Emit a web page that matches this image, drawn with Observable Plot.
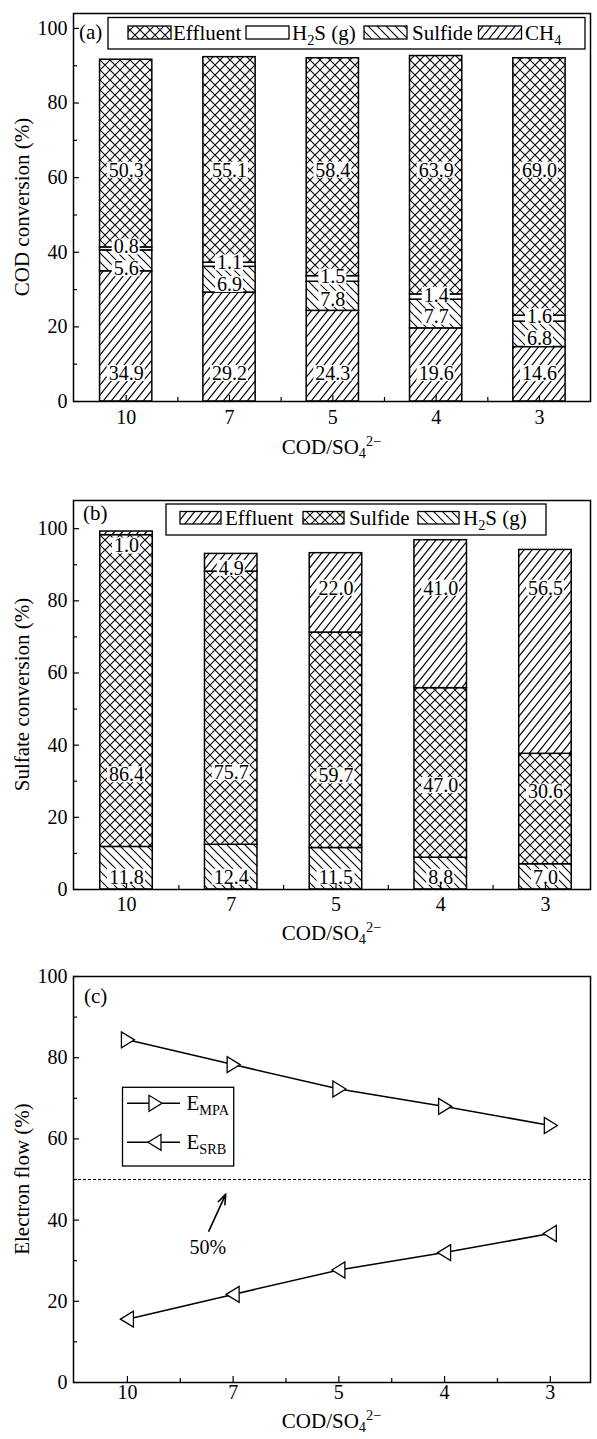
<!DOCTYPE html>
<html><head><meta charset="utf-8">
<script src="https://cdn.jsdelivr.net/npm/d3@7"></script>
<script src="https://cdn.jsdelivr.net/npm/@observablehq/plot@0.6"></script>
<style>
body{margin:0;background:#fff;}
#chart svg{display:block;}
</style></head><body><div id="chart"></div>
<script>
// ---------- data ----------
const ratios = ["10", "7", "5", "4", "3"];            // COD/SO4^2- categories
// (a) COD conversion (%), bottom -> top
const codCH4      = [34.9, 29.2, 24.3, 19.6, 14.6];
const codSulfide  = [5.6, 6.9, 7.8, 7.7, 6.8];
const codH2S      = [0.8, 1.1, 1.5, 1.4, 1.6];
const codEffluent = [50.3, 55.1, 58.4, 63.9, 69.0];
// (b) Sulfate conversion (%), bottom -> top
const sulH2S      = [11.8, 12.4, 11.5, 8.8, 7.0];
const sulSulfide  = [86.4, 75.7, 59.7, 47.0, 30.6];
const sulEffluent = [1.0, 4.9, 22.0, 41.0, 56.5];
// (c) Electron flow (%)
const eMPA = [84.4, 78.3, 72.3, 68.0, 63.3];
const eSRB = [15.6, 21.7, 27.7, 32.0, 36.7];
const yTicks = [0, 20, 40, 60, 80, 100];
const yMinor = [10, 30, 50, 70, 90];
const xMinor = [0.5, 1.5, 2.5, 3.5];
const threshold = [50];
const annotation = [{label: "50%", x: 0.76, y: 33.2, x1: 0.77, y1: 37.3, x2: 0.93, y2: 46.4}];

// ---------- helpers ----------
const FONT = "'Liberation Serif', 'Times New Roman', serif";
const W = 597, ML = 73, MR = 7;
const FS = 20;
const idx = ratios.map((_, i) => i);

function stackRows(series) {
  const rows = [], base = ratios.map(() => 0);
  for (const s of series) s.values.forEach((v, i) => {
    rows.push({key: s.key, i, v, y1: base[i], y2: base[i] + v});
    base[i] += v;
  });
  return rows;
}
function emWidth(s) { let w = 0; for (const c of s) w += c === "." ? 0.25 : 0.5; return w; }
function boxed(labels, xDom, yDom, innerH, fs) {
  const pxX = (W - ML - MR) / (xDom[1] - xDom[0]);
  const pxY = innerH / (yDom[1] - yDom[0]);
  return labels.map(d => ({...d, hw: (emWidth(d.t) * fs / 2 + 1.5) / pxX, hh: (fs * 0.4) / pxY}));
}
function addPatterns(svg, p) {
  const defs = d3.select(svg).insert("defs", ":first-child");
  const mk = (id, w, h, d) => {
    const pat = defs.append("pattern").attr("id", p + id).attr("patternUnits", "userSpaceOnUse")
      .attr("width", w).attr("height", h);
    pat.append("rect").attr("width", w).attr("height", h).attr("fill", "white");
    pat.append("path").attr("d", d).attr("stroke", "black").attr("stroke-width", 1.1).attr("fill", "none");
  };
  const fwd = (w, h) => `M0,${h}L${w},0M${-w/2},${h/2}L${w/2},${-h/2}M${w/2},${1.5*h}L${1.5*w},${h/2}`;
  const back = (w, h) => `M0,0L${w},${h}M${-w/2},${h/2}L${w/2},${1.5*h}M${w/2},${-h/2}L${1.5*w},${h/2}`;
  mk("fwd", 8, 10, fwd(8, 10));
  mk("back", 9, 9, back(9, 9));
  mk("cross", 10, 10, fwd(10, 10) + back(10, 10));
}
function rich(sel, x, y, parts, size, anchor = "start", extra = {}) {
  const t = sel.append("text").attr("x", x).attr("y", y).attr("font-size", size)
    .attr("font-family", FONT).attr("text-anchor", anchor).attr("fill", "black");
  for (const [k, v] of Object.entries(extra)) t.attr(k, v);
  for (const p of parts) {
    const ts = t.append("tspan").text(p.t);
    if (p.dy) ts.attr("dy", p.dy);
    if (p.small) ts.attr("font-size", size * 0.68);
  }
  return t;
}
const H2S_T = [{t: "H"}, {t: "2", dy: 5, small: 1}, {t: "S (g)", dy: -5}];
const CH4_T = [{t: "CH"}, {t: "4", dy: 5, small: 1}];
const XLAB_T = [{t: "COD/SO"}, {t: "4", dy: 4, small: 1}, {t: "2−", dy: -12, small: 1}];

function axes(tickPadX) {
  return [
    Plot.axisY(yTicks, {anchor: "left", tickSize: -6, tickPadding: 12, fontSize: FS, label: null, strokeWidth: 1.2}),
    Plot.axisY(yMinor, {anchor: "left", tickSize: -4, tickFormat: () => "", label: null, strokeWidth: 1.2}),
    Plot.axisX(idx, {anchor: "bottom", tickSize: -6, tickPadding: tickPadX, tickFormat: i => ratios[i], fontSize: FS, label: null, strokeWidth: 1.2}),
    Plot.axisX(xMinor, {anchor: "bottom", tickSize: -4, tickFormat: () => "", label: null, strokeWidth: 1.2})
  ];
}
function swatch(g, x, y, w, h, fill) {
  g.append("rect").attr("x", x).attr("y", y).attr("width", w).attr("height", h)
    .attr("fill", fill).attr("stroke", "black").attr("stroke-width", 1.3);
}
const chart = document.getElementById("chart");

// ---------- panel (a) ----------
{
  const H = 465, MT = 13, MB = 64, xDom = [-0.51, 4.494], yDom = [0, 104], hw = 0.253;
  const rows = stackRows([
    {key: "CH4", values: codCH4}, {key: "Sulfide", values: codSulfide},
    {key: "H2S", values: codH2S}, {key: "Effluent", values: codEffluent}]);
  const fills = {CH4: "url(#a-fwd)", Sulfide: "url(#a-back)", H2S: "white", Effluent: "url(#a-cross)"};
  const labels = [];
  idx.forEach(i => {
    const r = k => rows.find(d => d.key === k && d.i === i);
    const h2s = r("H2S"), sul = r("Sulfide");
    const h2sY = (h2s.y1 + h2s.y2) / 2 + 0.5;
    labels.push({i, y: 7.5, t: codCH4[i].toFixed(1)});
    labels.push({i, y: Math.min((sul.y1 + sul.y2) / 2 - 0.8, h2sY - 5.8), t: codSulfide[i].toFixed(1)});
    labels.push({i, y: h2sY, t: codH2S[i].toFixed(1)});
    labels.push({i, y: 62, t: codEffluent[i].toFixed(1)});
  });
  const lab = boxed(labels, xDom, yDom, H - MT - MB, FS);
  const svg = Plot.plot({
    width: W, height: H, marginLeft: ML, marginRight: MR, marginTop: MT, marginBottom: MB,
    style: {fontFamily: FONT, fontSize: FS + "px", background: "white", color: "black", overflow: "visible"},
    x: {domain: xDom, axis: null}, y: {domain: yDom, axis: null}, color: {type: "identity"},
    marks: [
      Plot.rect(rows, {x1: d => d.i - hw, x2: d => d.i + hw, y1: "y1", y2: "y2", fill: d => fills[d.key], stroke: "black", strokeWidth: 1.5}),
      Plot.rect(lab, {x1: d => d.i - d.hw, x2: d => d.i + d.hw, y1: d => d.y - d.hh, y2: d => d.y + d.hh, fill: "white"}),
      Plot.text(lab, {x: "i", y: "y", text: "t", fontSize: FS, fill: "black"}),
      ...axes(14),
      Plot.frame({stroke: "black", strokeWidth: 1.5})
    ]
  });
  addPatterns(svg, "a-");
  const g = d3.select(svg).append("g");
  rich(g, 79, 39, [{t: "(a)"}], 21);
  g.append("rect").attr("x", 108).attr("y", 17.5).attr("width", 477).attr("height", 31.5).attr("fill", "white").attr("stroke", "black").attr("stroke-width", 1.3);
  swatch(g, 128, 26, 43, 13, "url(#a-cross)"); rich(g, 173, 40, [{t: "Effluent"}], 21);
  swatch(g, 246, 26, 43, 13, "white"); rich(g, 292, 40, H2S_T, 21);
  swatch(g, 364, 26, 43, 13, "url(#a-back)"); rich(g, 412, 40, [{t: "Sulfide"}], 21);
  swatch(g, 478.5, 26, 43, 13, "url(#a-fwd)"); rich(g, 525, 40, CH4_T, 21);
  rich(g, 331.5, 454, XLAB_T, 21, "middle");
  rich(g, 22, (MT + H - MB) / 2, [{t: "COD conversion (%)"}], 21, "middle", {transform: `rotate(-90 22 ${(MT + H - MB) / 2})`, dy: "0.35em"});
  chart.appendChild(svg);
}

// ---------- panel (b) ----------
{
  const H = 485, MT = 35, MB = 61, xDom = [-0.506, 4.43], yDom = [0, 107.8], hw = 0.2506;
  const rows = stackRows([
    {key: "H2S", values: sulH2S}, {key: "Sulfide", values: sulSulfide}, {key: "Effluent", values: sulEffluent}]);
  const fills = {H2S: "url(#b-back)", Sulfide: "url(#b-cross)", Effluent: "url(#b-fwd)"};
  const labels = [];
  idx.forEach(i => {
    const top = sulH2S[i] + sulSulfide[i] + sulEffluent[i];
    labels.push({i, y: 3.4, t: sulH2S[i].toFixed(1)});
    labels.push({i, y: sulH2S[i] + 20, t: sulSulfide[i].toFixed(1)});
    labels.push({i, y: sulEffluent[i] < 10 ? top - 4 : 83.5, t: sulEffluent[i].toFixed(1)});
  });
  const lab = boxed(labels, xDom, yDom, H - MT - MB, FS);
  const svg = Plot.plot({
    width: W, height: H, marginLeft: ML, marginRight: MR, marginTop: MT, marginBottom: MB,
    style: {fontFamily: FONT, fontSize: FS + "px", background: "white", color: "black", overflow: "visible"},
    x: {domain: xDom, axis: null}, y: {domain: yDom, axis: null}, color: {type: "identity"},
    marks: [
      Plot.rect(rows, {x1: d => d.i - hw, x2: d => d.i + hw, y1: "y1", y2: "y2", fill: d => fills[d.key], stroke: "black", strokeWidth: 1.5}),
      Plot.rect(lab, {x1: d => d.i - d.hw, x2: d => d.i + d.hw, y1: d => d.y - d.hh, y2: d => d.y + d.hh, fill: "white"}),
      Plot.text(lab, {x: "i", y: "y", text: "t", fontSize: FS, fill: "black"}),
      ...axes(13),
      Plot.frame({stroke: "black", strokeWidth: 1.5})
    ]
  });
  addPatterns(svg, "b-");
  const g = d3.select(svg).append("g");
  rich(g, 83, 55, [{t: "(b)"}], 21);
  g.append("rect").attr("x", 166).attr("y", 39).attr("width", 380).attr("height", 31).attr("fill", "white").attr("stroke", "black").attr("stroke-width", 1.3);
  swatch(g, 180, 46.5, 41, 12.5, "url(#b-fwd)"); rich(g, 225, 60, [{t: "Effluent"}], 21);
  swatch(g, 303, 46.5, 41, 12.5, "url(#b-cross)"); rich(g, 349, 60, [{t: "Sulfide"}], 21);
  swatch(g, 418, 46.5, 41, 12.5, "url(#b-back)"); rich(g, 463, 60, H2S_T, 21);
  rich(g, 331.5, 475, XLAB_T, 21, "middle");
  rich(g, 22, (MT + H - MB) / 2, [{t: "Sulfate conversion (%)"}], 21, "middle", {transform: `rotate(-90 22 ${(MT + H - MB) / 2})`, dy: "0.35em"});
  chart.appendChild(svg);
}

// ---------- panel (c) ----------
{
  const H = 489, MT = 26, MB = 57, xDom = [-0.51, 4.38], yDom = [0, 100];
  const triRight = {draw(ctx, size) { const s = Math.sqrt(size / Math.PI); ctx.moveTo(0.875 * s, 0); ctx.lineTo(-0.75 * s, -s); ctx.lineTo(-0.75 * s, s); ctx.closePath(); }};
  const triLeft = {draw(ctx, size) { const s = Math.sqrt(size / Math.PI); ctx.moveTo(-0.875 * s, 0); ctx.lineTo(0.75 * s, -s); ctx.lineTo(0.75 * s, s); ctx.closePath(); }};
  const mpa = eMPA.map((v, i) => ({i, v}));
  const srb = eSRB.map((v, i) => ({i, v}));
  const svg = Plot.plot({
    width: W, height: H, marginLeft: ML, marginRight: MR, marginTop: MT, marginBottom: MB,
    style: {fontFamily: FONT, fontSize: FS + "px", background: "white", color: "black", overflow: "visible"},
    x: {domain: xDom, axis: null}, y: {domain: yDom, axis: null},
    marks: [
      Plot.ruleY(threshold, {stroke: "black", strokeWidth: 1, strokeDasharray: "3,2"}),
      Plot.arrow(annotation, {x1: "x1", y1: "y1", x2: "x2", y2: "y2", stroke: "black", strokeWidth: 1.6, headLength: 10, headAngle: 40}),
      Plot.text(annotation, {x: "x", y: "y", text: "label", fontSize: FS, fill: "black"}),
      Plot.line(mpa, {x: "i", y: "v", stroke: "black", strokeWidth: 1.5}),
      Plot.line(srb, {x: "i", y: "v", stroke: "black", strokeWidth: 1.5}),
      Plot.dot(mpa, {x: "i", y: "v", symbol: triRight, r: 8, fill: "white", stroke: "black", strokeWidth: 1.3}),
      Plot.dot(srb, {x: "i", y: "v", symbol: triLeft, r: 8, fill: "white", stroke: "black", strokeWidth: 1.3}),
      ...axes(8),
      Plot.frame({stroke: "black", strokeWidth: 1.5})
    ]
  });
  const g = d3.select(svg).append("g");
  rich(g, 84, 53, [{t: "(c)"}], 21);
  g.append("rect").attr("x", 122.5).attr("y", 137.3).attr("width", 111.2).attr("height", 78.7).attr("fill", "white").attr("stroke", "black").attr("stroke-width", 1.3);
  const tri = (cx, cy, dir) => { const s = 8; return `M${cx + dir * 0.875 * s},${cy}L${cx - dir * 0.75 * s},${cy - s}L${cx - dir * 0.75 * s},${cy + s}Z`; };
  [[153.3, 1, [{t: "E"}, {t: "MPA", dy: 5, small: 1}]], [192.3, -1, [{t: "E"}, {t: "SRB", dy: 5, small: 1}]]].forEach(([y, dir, parts]) => {
    g.append("line").attr("x1", 127).attr("x2", 180).attr("y1", y).attr("y2", y).attr("stroke", "black").attr("stroke-width", 1.5);
    g.append("path").attr("d", tri(155, y, dir)).attr("fill", "white").attr("stroke", "black").attr("stroke-width", 1.3);
    rich(g, 186.5, y + 7, parts, 21);
  });
  rich(g, 331.5, 478, XLAB_T, 21, "middle");
  rich(g, 22, (MT + H - MB) / 2, [{t: "Electron flow (%)"}], 21, "middle", {transform: `rotate(-90 22 ${(MT + H - MB) / 2})`, dy: "0.35em"});
  chart.appendChild(svg);
}
</script></body></html>
